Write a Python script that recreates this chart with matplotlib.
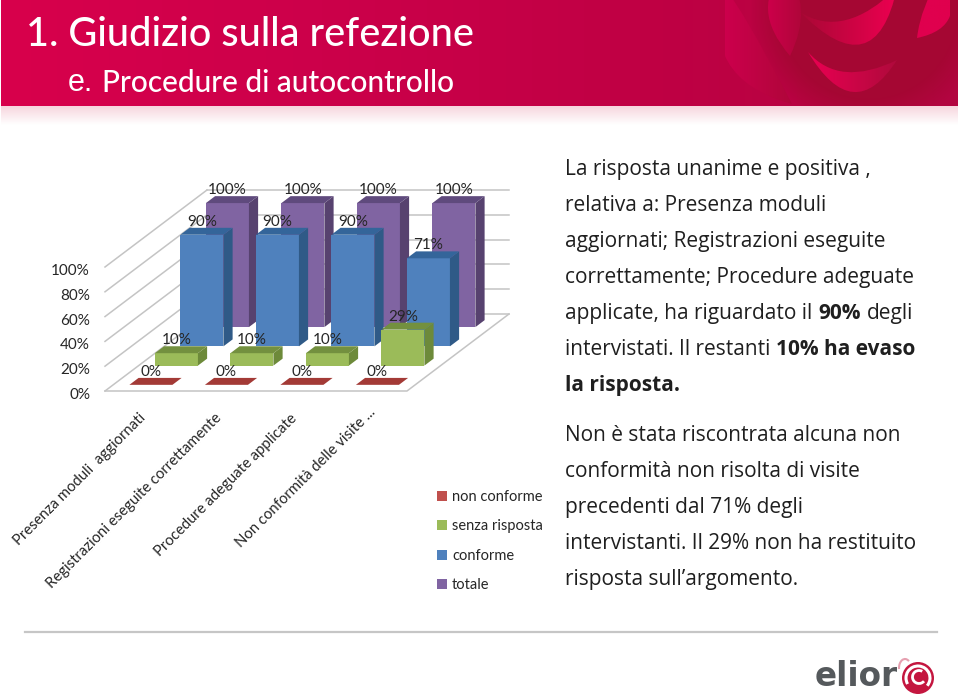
import numpy as np
import matplotlib
matplotlib.use("Agg")
import matplotlib.pyplot as plt
from matplotlib.colors import LinearSegmentedColormap
from matplotlib.patches import Arc, Circle, PathPatch, Polygon, Rectangle
from matplotlib.path import Path

# ---- data ----
categories = ["Presenza moduli  aggiornati", "Registrazioni eseguite correttamente",
              "Procedure adeguate applicate", "Non conformità delle visite ..."]
series_names = ["non conforme", "senza risposta", "conforme", "totale"]
non_conforme = [0, 0, 0, 0]
senza_risposta = [10, 10, 10, 29]
conforme = [90, 90, 90, 71]
totale = [100, 100, 100, 100]
y_ticks = [0, 20, 40, 60, 80, 100]

title = "1. Giudizio sulla refezione"
subtitle = "Procedure di autocontrollo"
# every line is a list of (text, bold) runs
body_lines = [
    (167, [("La risposta unanime e positiva ,", False)]),
    (203, [("relativa a: Presenza moduli", False)]),
    (239, [("aggiornati; Registrazioni eseguite", False)]),
    (275, [("correttamente; Procedure adeguate", False)]),
    (311, [("applicate, ha riguardato il ", False), ("90%", True), (" degli", False)]),
    (347, [("intervistati. Il restanti ", False), ("10% ha evaso", True)]),
    (383, [("la risposta.", True)]),
    (433, [("Non è stata riscontrata alcuna non", False)]),
    (469, [("conformità non risolta di visite", False)]),
    (505, [("precedenti dal 71% degli", False)]),
    (541, [("intervistanti. Il 29% non ha restituito", False)]),
    (577, [("risposta sull’argomento.", False)]),
]

# ---- colours: front, side, top ----
RED = ("#c0504d", "#8c3a38", "#a33a36")
GREEN = ("#9bbb59", "#6d8a3a", "#73903f")
BLUE = ("#4f81bd", "#2f5a87", "#34659a")
PURPLE = ("#8064a2", "#57426f", "#5f4a7d")
series_colors = [RED, GREEN, BLUE, PURPLE]
series_values = [non_conforme, senza_risposta, conforme, totale]
legend_colors = ["#c0504d", "#9bbb59", "#4f81bd", "#8064a2"]

BODY_FONT = "Open Sans"
CHART_FONT = "Lato"
TEXT_COL = "#262626"

fig = plt.figure(figsize=(9.6, 7.0), dpi=100)
ax = fig.add_axes([0, 0, 1, 1])
ax.set_axis_off()


def crescent(a, outer, b, inner):
    # two quadratic curves through the tips a and b
    a, outer, b, inner = map(np.array, (a, outer, b, inner))
    mid = (a + b) / 2
    c1 = 2 * outer - mid
    c2 = 2 * inner - mid
    verts = [a, c1, b, c2, a]
    codes = [Path.MOVETO, Path.CURVE3, Path.CURVE3, Path.CURVE3, Path.CURVE3]
    return Path(verts, codes)


def gradient_crescent(a, outer, b, inner, col1, col2, zorder=2):
    patch = PathPatch(crescent(a, outer, b, inner), fc="none", ec="none", transform=ax.transData)
    ax.add_patch(patch)
    cmap = LinearSegmentedColormap.from_list("c", [col1, col2])
    x0 = min(a[0], b[0], outer[0], inner[0])
    x1 = max(a[0], b[0], outer[0], inner[0])
    y0 = min(a[1], b[1], outer[1], inner[1]) - 30
    y1 = max(a[1], b[1], outer[1], inner[1]) + 30
    im = ax.imshow(np.linspace(0, 1, 64).reshape(1, -1), cmap=cmap, extent=[x0, x1, y1, y0],
                   aspect="auto", zorder=zorder)
    im.set_clip_path(patch)


# ---- header band ----
head = LinearSegmentedColormap.from_list("head", ["#d8004c", "#cc004a", "#c00044", "#b20640"])
ax.imshow(np.linspace(0, 1, 256).reshape(1, -1), cmap=head, extent=[1, 958, 106, 0],
          aspect="auto", zorder=1)
# soft dark disc behind the rose
gx, gy = np.meshgrid(np.arange(720, 958), np.arange(0, 106))
dist = np.hypot(gx - 868, gy - 10)
disc = np.zeros(dist.shape + (4,))
disc[..., 0] = 0.65
disc[..., 1] = 0.03
disc[..., 2] = 0.2
disc[..., 3] = np.clip((118 - dist) / 30, 0, 1)
ax.imshow(disc, extent=[720, 958, 106, 0], aspect="auto", zorder=1.2)
gradient_crescent((725, -12), (728, 62), (792, 104), (752, 30), "#cc004c", "#b0063a", zorder=1.5)
gradient_crescent((786, -30), (768, 10), (790, 56), (801, 10), "#cc004a", "#b0063a", zorder=1.5)
gradient_crescent((800, 12), (862, 44), (897, -12), (846, 20), "#a90835", "#ec0050")
gradient_crescent((808, 52), (853, 92), (897, 60), (846, 72), "#ea0052", "#b00a3c")
gradient_crescent((917, 38), (950, 16), (942, -28), (925, 6), "#e0004e", "#e0004e")
shade = LinearSegmentedColormap.from_list("shade", ["#f7d6de", "#ffffff"])
ax.imshow(np.linspace(0, 1, 32).reshape(-1, 1), cmap=shade, extent=[1, 958, 125, 106],
          aspect="auto", zorder=3)
ax.add_patch(Rectangle((958, 0), 2, 130, fc="white", ec="none", zorder=3))

ax.text(26, 35, title, color="white", fontsize=28.5, family=CHART_FONT, fontweight=500,
        va="center", zorder=4)
ax.text(68, 83, "e.", color="white", fontsize=22, family="Liberation Sans", va="center", zorder=4)
ax.text(102, 83, subtitle, color="white", fontsize=21.5, family=CHART_FONT, fontweight=500,
        va="center", zorder=4)

# ---- 3D-looking chart: oblique projection of (category, depth, percent) ----
ORIGIN = (105.0, 391.0)
FLOOR_W = 302.0
DEPTH_DX = 102.0
DEPTH_DY = 77.0
HEIGHT = 124.0
n_cat = len(categories)
n_ser = len(series_names)
BAR_W = 0.57      # share of a category slot
BAR_D = 0.36      # share of a series slot
BAR_FRONT = 0.32  # gap in front of the bar in its slot


def project(cat, depth, pct):
    px = ORIGIN[0] + FLOOR_W * cat / n_cat + DEPTH_DX * depth / n_ser
    py = ORIGIN[1] - DEPTH_DY * depth / n_ser - HEIGHT * pct / 100
    return px, py


GRID = "#c4c4c4"
for t in y_ticks:
    ax.plot(*zip(project(0, 0, t), project(0, n_ser, t)), color=GRID, lw=1.1, zorder=5)
    ax.plot(*zip(project(0, n_ser, t), project(n_cat, n_ser, t)), color=GRID, lw=1.1, zorder=5)
    px, py = project(0, 0, t)
    ax.text(px - 15, py + 4, f"{t}%", ha="right", va="center", fontsize=11,
            family=CHART_FONT, color=TEXT_COL, zorder=9)
ax.plot(*zip(project(0, 0, 0), project(n_cat, 0, 0), project(n_cat, n_ser, 0)),
        color=GRID, lw=1.1, zorder=5)

labels = []
for s in range(n_ser - 1, -1, -1):
    front, side, top = series_colors[s]
    for c in range(n_cat):
        val = series_values[s][c]
        x0 = c + (1 - BAR_W) / 2
        x1 = x0 + BAR_W
        d0 = s + BAR_FRONT
        d1 = d0 + BAR_D
        z = 6 + (n_ser - s) * 0.1
        ax.add_patch(Polygon([project(x0, d0, 0), project(x1, d0, 0),
                              project(x1, d0, val), project(x0, d0, val)],
                             fc=front, ec="none", zorder=z))
        ax.add_patch(Polygon([project(x1, d0, 0), project(x1, d1, 0),
                              project(x1, d1, val), project(x1, d0, val)],
                             fc=side, ec="none", zorder=z))
        ax.add_patch(Polygon([project(x0, d0, val), project(x1, d0, val),
                              project(x1, d1, val), project(x0, d1, val)],
                             fc=top, ec="none", zorder=z))
        px, py = project((x0 + x1) / 2, d0, val)
        labels.append((px, py - 13, f"{val}%"))

for px, py, txt in labels:
    ax.text(px, py, txt, ha="center", va="center", fontsize=11, family=CHART_FONT,
            color=TEXT_COL, zorder=9)

# category labels, rotated and anchored at their upper right end
for c, name in enumerate(categories):
    px, py = project(c + 0.5, 0, 0)
    offset = 6 if c == 3 else 0
    ax.text(px + 1 + offset * 0.5, py + 25 - offset, name, rotation=45, rotation_mode="anchor",
            ha="right", va="center", fontsize=10.7, family=CHART_FONT, color=TEXT_COL)

# legend
legend_y = [496, 525, 555, 584]
for name, col, ly in zip(series_names, legend_colors, legend_y):
    ax.add_patch(Rectangle((437, ly - 5), 10, 10, fc=col, ec="none"))
    ax.text(452, ly + 1, name, va="center", fontsize=10.5, family=CHART_FONT, color=TEXT_COL)

# ---- text on the right ----
renderer = fig.canvas.get_renderer()
ax.set_xlim(0, 960)
ax.set_ylim(700, 0)
for ly, runs in body_lines:
    x = 565.0
    for txt, bold in runs:
        lead = len(txt) - len(txt.lstrip())
        trail = len(txt) - len(txt.rstrip())
        if lead:
            x += 6 * lead
        t = ax.text(x, ly, txt.strip(), va="center_baseline", fontsize=15, family=BODY_FONT,
                    fontweight="bold" if bold else "normal", color="#1f1f1f")
        x = t.get_window_extent(renderer).x1
        if trail:
            x += 6 * trail

# ---- footer and logo ----
ax.plot([25, 937], [632, 632], color="#c6c6c6", lw=1.6)
ax.text(815, 676, "elior", fontsize=23.5, family="DejaVu Sans", fontweight="bold",
        color="#55595c", va="center")
ROSE = "#c4163f"
ax.add_patch(Circle((918, 678), 16, fc=ROSE, ec="none"))
ax.add_patch(Arc((918, 678), 24, 24, theta1=150, theta2=400, ec="white", lw=2.2))
ax.add_patch(Arc((919, 677), 13, 13, theta1=40, theta2=300, ec="white", lw=2))
ax.add_patch(Arc((905, 668), 12, 18, theta1=170, theta2=300, ec="#e6a0b0", lw=1.5))

ax.set_xlim(0, 960)
ax.set_ylim(700, 0)
fig.savefig("out.png", dpi=100)
